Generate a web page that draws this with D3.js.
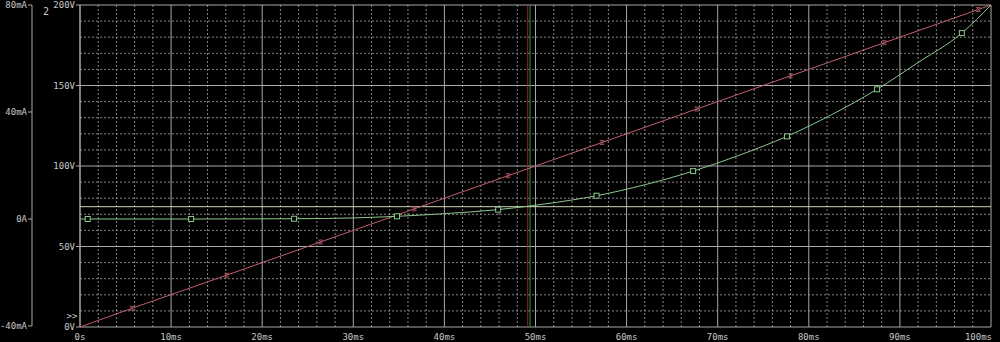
<!DOCTYPE html>
<html>
<head>
<meta charset="utf-8">
<script src="https://cdn.jsdelivr.net/npm/d3@7"></script>
<style>
  body { margin: 0; background: #000; }
  text { font-family: "DejaVu Sans Mono", monospace; font-size: 9px; fill: #c8c8c8; }
</style>
</head>
<body>
<div id="plot"></div>
<script>
// trace data (time in ms)
const redTime  = [0, 5.7, 16.1, 26.4, 36.7, 47.0, 57.3, 67.7, 78.0, 88.3, 98.6, 100];
const redVolts = [0, 11.6, 32.2, 52.8, 73.4, 94.0, 114.6, 135.4, 156.0, 176.6, 197.2, 200];
const redMarkIdx = [1, 2, 3, 4, 5, 6, 7, 8, 9, 10];

const greenTime = [0, 0.85, 12.2, 23.5, 30.0, 34.8, 40.0, 45.9, 51.0, 56.7, 62.0, 67.3, 72.5, 77.6, 82.5, 87.5, 92.0, 96.8, 100];
const greenMA   = [0, 0, 0, 0.1, 0.4, 1.0, 2.0, 3.5, 5.6, 8.7, 12.8, 17.9, 24.0, 30.9, 39.0, 48.5, 58.5, 69.5, 80];
const greenMarkIdx = [1, 2, 3, 5, 7, 9, 11, 13, 15, 17];

const xTicks = [0, 10, 20, 30, 40, 50, 60, 70, 80, 90, 100];
const xTickLabels = ["0s", "10ms", "20ms", "30ms", "40ms", "50ms", "60ms", "70ms", "80ms", "90ms", "100ms"];
const vTicks = [0, 50, 100, 150, 200];
const vTickLabels = ["0V", "50V", "100V", "150V", "200V"];
const iTicks = [-40, 0, 40, 80];
const iTickLabels = ["-40mA", "0A", "40mA", "80mA"];

// cursor position
const cursorRed = 49.15, cursorGreen = 49.4, cursorMA = 4.6;

const W = 1000, H = 342;
const pLeft = 80, pRight = 991, pTop = 5, pBottom = 327;

const svg = d3.select("#plot").append("svg")
  .attr("width", W).attr("height", H)
  .style("background", "#000");

const x = d3.scaleLinear().domain([0, 100]).range([pLeft, pRight]);
const yV = d3.scaleLinear().domain([0, 200]).range([pBottom, pTop]);
const yI = d3.scaleLinear().domain([-40, 80]).range([326, pTop]);

// minor dotted grid
const minorX = d3.range(0, 101, 2).filter(d => d % 10 !== 0);
const minorY = d3.range(0, 201, 10).filter(d => d % 50 !== 0);
svg.append("g").selectAll("line").data(minorX).join("line")
  .attr("x1", d => x(d)).attr("x2", d => x(d))
  .attr("y1", pTop).attr("y2", pBottom)
  .attr("stroke", "#858585").attr("stroke-dasharray", "2,2");
svg.append("g").selectAll("line").data(minorY).join("line")
  .attr("x1", pLeft).attr("x2", pRight)
  .attr("y1", d => yV(d)).attr("y2", d => yV(d))
  .attr("stroke", "#858585").attr("stroke-dasharray", "2,2");

// major solid grid
svg.append("g").selectAll("line").data(xTicks).join("line")
  .attr("x1", d => x(d)).attr("x2", d => x(d))
  .attr("y1", pTop).attr("y2", pBottom)
  .attr("stroke", "#a8a8a8");
svg.append("g").selectAll("line").data(vTicks).join("line")
  .attr("x1", pLeft).attr("x2", pRight)
  .attr("y1", d => yV(d)).attr("y2", d => yV(d))
  .attr("stroke", "#a8a8a8");

// x labels (last one kept inside the frame)
svg.append("g").selectAll("text").data(xTicks).join("text")
  .attr("x", (d, i) => i === xTicks.length - 1 ? x(d) + 1 : x(d)).attr("y", 340)
  .attr("text-anchor", (d, i) => i === xTicks.length - 1 ? "end" : "middle")
  .text((d, i) => xTickLabels[i]);

// voltage axis (inner)
const gV = svg.append("g");
gV.append("line").attr("x1", pLeft).attr("x2", pLeft).attr("y1", pTop).attr("y2", pBottom).attr("stroke", "#a8a8a8");
gV.selectAll("line.t").data(vTicks).join("line").attr("class", "t")
  .attr("x1", pLeft - 4).attr("x2", pLeft)
  .attr("y1", d => yV(d)).attr("y2", d => yV(d)).attr("stroke", "#a8a8a8");
gV.selectAll("text").data(vTicks).join("text")
  .attr("x", pLeft - 5).attr("y", d => yV(d)).attr("dy", "0.35em")
  .attr("text-anchor", "end")
  .text((d, i) => vTickLabels[i]);

// current axis (outer)
const ax = 32;
const gI = svg.append("g");
gI.append("line").attr("x1", ax).attr("x2", ax).attr("y1", pTop).attr("y2", 326).attr("stroke", "#a8a8a8");
gI.selectAll("line.t").data(iTicks).join("line").attr("class", "t")
  .attr("x1", ax - 4).attr("x2", ax)
  .attr("y1", d => yI(d)).attr("y2", d => yI(d)).attr("stroke", "#a8a8a8");
gI.selectAll("text").data(iTicks).join("text")
  .attr("x", ax - 5).attr("y", d => yI(d)).attr("dy", "0.35em")
  .attr("text-anchor", "end")
  .text((d, i) => iTickLabels[i]);

svg.append("text").attr("x", 46).attr("y", 15).attr("text-anchor", "middle")
  .style("font-size", "10px").text("2");
svg.append("text").attr("x", 72).attr("y", 319).attr("text-anchor", "middle").text(">>");

// cursors
svg.append("line").attr("x1", x(cursorRed)).attr("x2", x(cursorRed))
  .attr("y1", pTop).attr("y2", pBottom).attr("stroke", "#962828").attr("stroke-width", 1);
svg.append("line").attr("x1", x(cursorGreen)).attr("x2", x(cursorGreen))
  .attr("y1", pTop).attr("y2", pBottom).attr("stroke", "#3c8c3c").attr("stroke-width", 1);
svg.append("line").attr("x1", pLeft).attr("x2", pRight)
  .attr("y1", yI(cursorMA)).attr("y2", yI(cursorMA))
  .attr("stroke", "#cdd6b4");

// red trace
const redLine = d3.line().x(d => x(redTime[d])).y(d => yV(redVolts[d]));
svg.append("path").datum(d3.range(redTime.length))
  .attr("d", redLine).attr("fill", "none")
  .attr("stroke", "#c0606e").attr("stroke-width", 1);
svg.append("g").selectAll("path").data(redMarkIdx).join("path")
  .attr("transform", d => `translate(${x(redTime[d])},${yV(redVolts[d])})`)
  .attr("d", "M-2,-2L2,2M-2,2L2,-2M-2,-2L2,-2M-2,2L2,2")
  .attr("fill", "none").attr("stroke", "#c0606e").attr("stroke-width", 0.8);

// green trace
const greenLine = d3.line().curve(d3.curveMonotoneX)
  .x(d => x(greenTime[d])).y(d => yI(greenMA[d]));
svg.append("path").datum(d3.range(greenTime.length))
  .attr("d", greenLine).attr("fill", "none")
  .attr("stroke", "#8cc88c").attr("stroke-width", 1);
svg.append("g").selectAll("rect").data(greenMarkIdx).join("rect")
  .attr("x", d => x(greenTime[d]) - 2.5).attr("y", d => yI(greenMA[d]) - 2.5)
  .attr("width", 5).attr("height", 5)
  .attr("fill", "#000").attr("stroke", "#8cc88c").attr("stroke-width", 1);
</script>
</body>
</html>
